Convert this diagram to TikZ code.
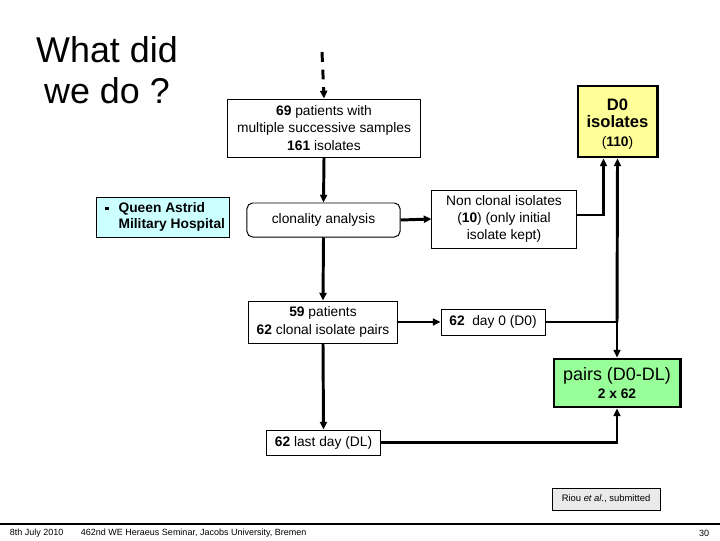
\documentclass[tikz,border=0pt]{standalone}
\usepackage{fontspec}
\setmainfont{Liberation Sans}
\usepackage{tikz}
\usetikzlibrary{arrows.meta,calc}
\definecolor{dzeroyellow}{RGB}{255,255,153}
\definecolor{pairgreen}{RGB}{153,255,153}
\definecolor{hospcyan}{RGB}{204,255,255}
\definecolor{refgray}{RGB}{234,234,234}
\newcommand{\linew}{2.1pt}
\newcommand{\boxfont}{\fontsize{9.8}{12.2}\selectfont}
\newcommand{\bigfont}{\fontsize{12.8}{15}\selectfont}
\newcommand{\dzerofont}{\fontsize{11.8}{13.6}\selectfont\bfseries}
\newcommand{\footfont}{\fontsize{6.4}{7.5}\selectfont}
\newcommand{\bulletsq}{\rule[0.3ex]{2.5pt}{2.5pt}}
\tikzset{
  box/.style={draw, line width=0.7pt, fill=white, inner sep=0pt, align=center, font=\boxfont},
  roundbox/.style={box, rounded corners=4pt},
  bigbox/.style={box, line width=\linew},
  conn/.style={line width=\linew, -{Triangle[length=5.5pt,width=5pt]}},
  plain/.style={line width=\linew}
}

\begin{document}
\begin{tikzpicture}[x=0.025cm,y=-0.025cm]
\useasboundingbox (0,0) rectangle (720,540);
% title
\node[align=center, font=\fontsize{25.5}{29}\selectfont] (title) at (107,70) {What did\\we do ?};
\node[box, fill=hospcyan, font=\boxfont\bfseries] (hosp) at (163,217) [minimum width=3.3cm, minimum height=1cm]
  {\begin{tabular}{@{\hspace{3pt}}l@{\hspace{7pt}}l@{}}\bulletsq & Queen Astrid\\[-1pt] & Military Hospital\end{tabular}};
% boxes
\node[box] (patients) at (324,128) [minimum width=4.8cm, minimum height=1.45cm]
  {\textbf{69} patients with\\multiple successive samples\\\textbf{161} isolates};
\node[roundbox] (clonality) at (323.5,220) [minimum width=3.825cm, minimum height=0.85cm] {clonality analysis};
\node[box] (nonclonal) at (504,219) [minimum width=3.6cm, minimum height=1.45cm]
  {Non clonal isolates\\(\textbf{10}) (only initial\\isolate kept)};
\node[bigbox, fill=dzeroyellow] (dzero) at (617.5,121.5) [minimum width=1.975cm, minimum height=1.775cm]
  {\rule{0pt}{12pt}\dzerofont D0\\\dzerofont isolates\\[1pt]\boxfont (\textbf{110})};
\node[box] (fiftynine) at (323,322) [minimum width=3.7cm, minimum height=1.05cm]
  {\textbf{59} patients\\\textbf{62} clonal isolate pairs};
\node[box] (dayzero) at (493,322) [minimum width=2.6cm, minimum height=0.65cm] {\textbf{62}\ \ day 0 (D0)};
\node[box] (lastday) at (323.5,442.5) [minimum width=2.825cm, minimum height=0.625cm] {\textbf{62} last day (DL)};
\node[bigbox, fill=pairgreen] (pairs) at (617,383) [minimum width=3.15cm, minimum height=1.2cm]
  {\bigfont pairs (D0-DL)\\\boxfont\bfseries 2 x 62};
\node[box, fill=refgray, font=\fontsize{6.7}{8}\selectfont] (riou) at (606,499) [minimum width=2.7cm, minimum height=0.55cm]
  {Riou \textit{et al.}, submitted};
% connectors
\coordinate (start) at (322,52);
\coordinate (junc) at (617,322);
\draw[conn, dash pattern=on 7pt off 5.5pt] (start) -- (patients.north);
\draw[conn] (patients.south) -- (clonality.north);
\draw[conn] (clonality.east) -- (nonclonal.west);
\draw[conn] ([yshift=0.1cm]nonclonal.east) -| ([xshift=-0.35cm]dzero.south);
\draw[conn] (clonality.south) -- (fiftynine.north);
\draw[conn] (fiftynine.east) -- (dayzero.west);
\draw[plain] (dayzero.east) -- (junc);
\draw[conn] (junc) -- (dzero.south);
\draw[conn] (junc) -- (pairs.north);
\draw[conn] (fiftynine.south) -- (lastday.north);
\draw[conn] (lastday.east) -| (pairs.south);
% footer
\coordinate (footl) at (0,524);
\coordinate (footr) at (720,524);
\draw[line width=1pt] (footl) -- (footr);
\node[font=\footfont, anchor=west] (date) at (5,533) {8th July 2010};
\node[font=\footfont, anchor=west] (seminar) at (76,533) {462nd WE Heraeus Seminar, Jacobs University, Bremen};
\node[font=\footfont, anchor=east] (page) at (714,533) {30};
\end{tikzpicture}
\end{document}
